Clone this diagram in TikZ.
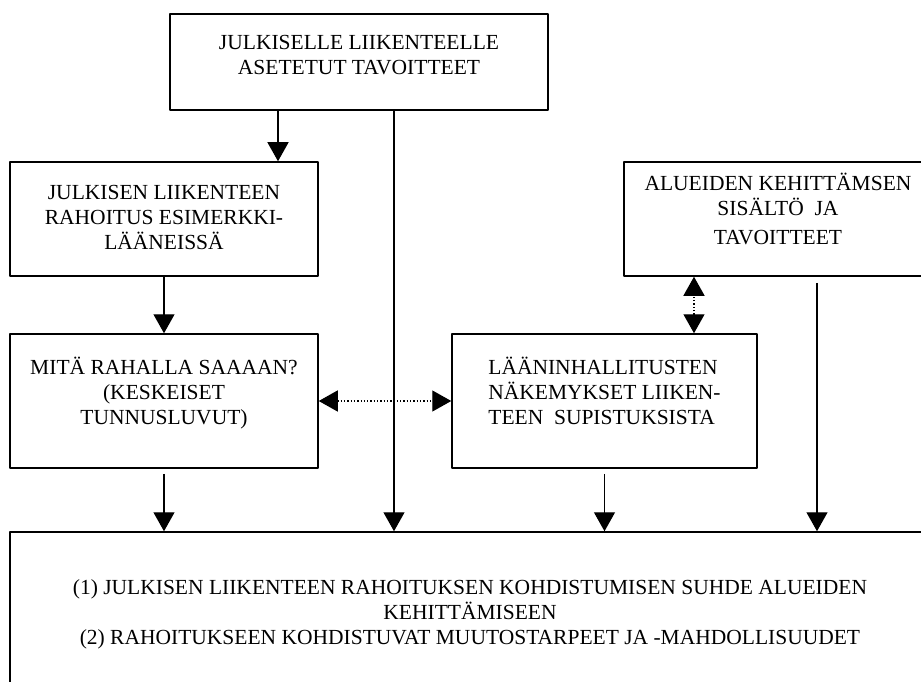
\documentclass[tikz,border=0pt]{standalone}
\usepackage{fontspec}
\setmainfont{Liberation Serif}
\usetikzlibrary{arrows.meta}
\begin{document}
\begin{tikzpicture}[x=1pt,y=-1pt,line join=round,>={Triangle[length=19pt,width=21pt]},
		box/.style={draw,line width=1.5pt,align=center,inner sep=0pt,text depth=0pt,font=\fontsize{21.5}{25}\selectfont},
		arr/.style={->,line width=1.3pt},
		dotarr/.style={<->,line width=1.3pt,dotted}]
	\useasboundingbox (0,0) rectangle (921,682);
	\clip (0,0) rectangle (921,682);
	\node[box,minimum width=378,minimum height=96,text height=26pt] (goal) at (359,62) {JULKISELLE LIIKENTEELLE\\ASETETUT TAVOITTEET};
	\node[box,minimum width=308,minimum height=114,text height=60pt] (fund) at (164,219) {JULKISEN LIIKENTEEN\\RAHOITUS ESIMERKKI-\\LÄÄNEISSÄ};
	\node[box,minimum width=308,minimum height=114,text height=50pt] (region) at (778,219) {ALUEIDEN KEHITTÄMSEN\\SISÄLTÖ~ JA\\[4pt]TAVOITTEET};
	\node[box,minimum width=308,minimum height=134,text height=46pt] (money) at (164,401) {MITÄ RAHALLA SAAAAN?\\(KESKEISET\\TUNNUSLUVUT)};
	\node[box,minimum width=305,minimum height=134,text height=46pt,align=left] (views) at (604.5,401) {LÄÄNINHALLITUSTEN\\NÄKEMYKSET LIIKEN-\\TEEN~ SUPISTUKSISTA};
	\node[box,minimum width=920,minimum height=164,text height=60pt] (result) at (470,614) {(1) JULKISEN LIIKENTEEN RAHOITUKSEN KOHDISTUMISEN SUHDE ALUEIDEN\\KEHITTÄMISEEN\\(2) RAHOITUKSEEN KOHDISTUVAT MUUTOSTARPEET JA -MAHDOLLISUUDET};
	% arrows
	\draw[arr] ([xshift=-81]goal.south) -- ([xshift=-81]goal.south |- fund.north);
	\draw[arr] ([xshift=35]goal.south) -- ([xshift=35]goal.south |- result.north);
	\draw[arr] (fund.south) -- (money.north);
	\draw[arr] ([yshift=-5]money.south) -- (money.south |- result.north);
	\draw[arr] ([yshift=-5]views.south) -- (views.south |- result.north);
	\draw[arr] ([xshift=39,yshift=-6]region.south) -- ([xshift=39]region.south |- result.north);
	\draw[dotarr] (money.east) -- (views.west);
	\draw[dotarr] ([xshift=89.5]views.north) -- ([xshift=89.5]views.north |- region.south);
\end{tikzpicture}
\end{document}
